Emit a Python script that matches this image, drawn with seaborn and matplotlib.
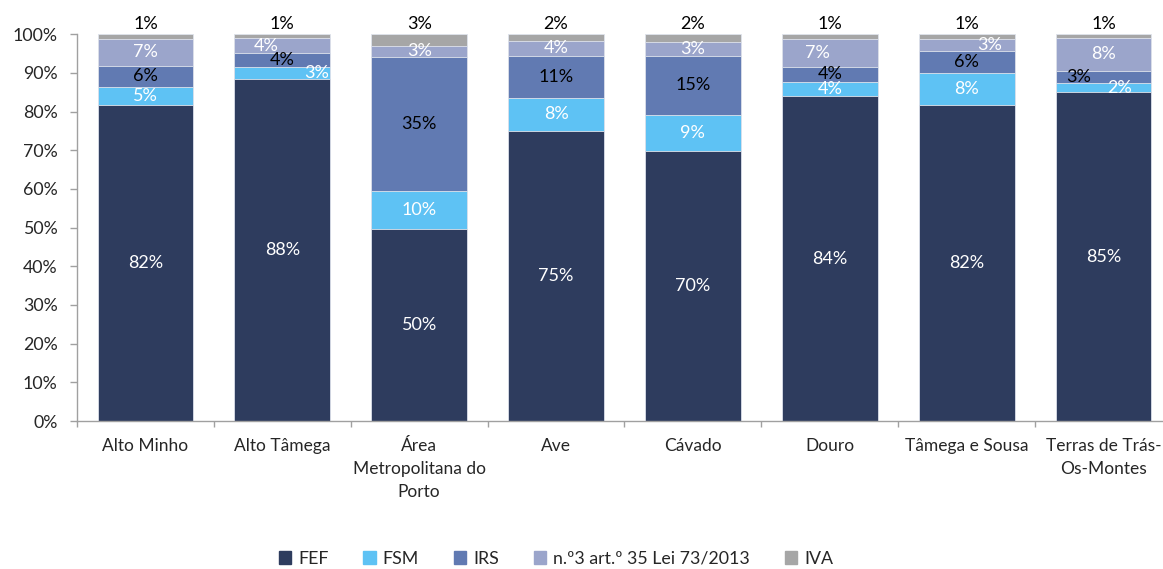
import matplotlib.pyplot as plt
import matplotlib.patches as mpatches
import pandas as pd
import seaborn as sns

# data (shares in %)
regions = ["Alto Minho", "Alto Tâmega", "Área\nMetropolitana do\nPorto", "Ave",
           "Cávado", "Douro", "Tâmega e Sousa", "Terras de Trás-\nOs-Montes"]
series = ["FEF", "FSM", "IRS", "n.º3 art.º 35 Lei 73/2013", "IVA"]
fef = [81.7, 88.4, 49.6, 75.1, 69.8, 84.0, 81.6, 85.0]
fsm = [4.6, 3.1, 9.9, 8.4, 9.3, 3.7, 8.4, 2.4]
irs = [5.6, 3.7, 34.6, 10.9, 15.4, 3.9, 5.6, 3.2]
art35 = [6.9, 3.8, 3.0, 3.9, 3.4, 7.1, 3.3, 8.4]
iva = [1.2, 1.0, 2.9, 1.7, 2.1, 1.3, 1.1, 1.0]

colors = ["#2E3C5E", "#5EC2F4", "#617AB2", "#9BA5CB", "#A6A6A6"]
label_colors = ["white", "white", "black", "white", "black"]

# manual nudges for a few crowded labels (x shift in category units)
nudges = {(1, 3): -0.12, (1, 1): 0.25, (5, 3): -0.09,
          (6, 3): 0.17, (7, 2): -0.18, (7, 1): 0.12}

df = pd.DataFrame({"region": regions, "FEF": fef, "FSM": fsm, "IRS": irs,
                   series[3]: art35, "IVA": iva})
cum = df[series].cumsum(axis=1)

sns.set_style("white")
plt.rcParams["font.family"] = ["Lato", "DejaVu Sans"]

fig = plt.figure(figsize=(11.63, 5.69), dpi=100)
ax = fig.add_axes([0.0662, 0.2601, 0.9415, 0.6796])

# stacked bars: draw cumulative totals from the top series down
for i in reversed(range(len(series))):
    sns.barplot(x=df["region"], y=cum[series[i]], color=colors[i], saturation=1,
                width=0.7, edgecolor="#dfe3ec", linewidth=0.6, ax=ax)

# value labels
for j in range(len(regions)):
    for i, s in enumerate(series):
        v = df.loc[j, s]
        txt = f"{v:.0f}%"
        if s == "IVA":
            ax.annotate(txt, (j, 100), xytext=(0, 2), textcoords="offset points",
                        ha="center", va="bottom", fontsize=13, color="black")
        else:
            ymid = cum.loc[j, s] - v / 2
            ax.text(j + nudges.get((j, i), 0), ymid, txt, ha="center", va="center",
                    fontsize=13, color=label_colors[i])

ax.set_xlim(-0.5, 7.5)
ax.set_ylim(0, 100)
ax.set_yticks(range(0, 101, 10))
ax.set_yticklabels([f"{t}%" for t in range(0, 101, 10)], fontsize=12.8)
ax.set_xticks(range(len(regions)))
ax.set_xticklabels(regions, fontsize=12.5, linespacing=1.55)
ax.set_xticks([k - 0.5 for k in range(len(regions) + 1)], minor=True)
ax.tick_params(axis="x", which="major", length=0, pad=12)
ax.tick_params(axis="x", which="minor", length=4, width=1, color="#A0A0A0",
               direction="out", bottom=True)
ax.tick_params(axis="y", length=5, width=1, color="#A0A0A0", direction="out",
               left=True, pad=9)
ax.set_xlabel("")
ax.set_ylabel("")
sns.despine(ax=ax, top=True, right=True)
for side in ["left", "bottom"]:
    ax.spines[side].set_color("#A0A0A0")
    ax.spines[side].set_linewidth(1.0)

handles = [mpatches.Patch(color=c, label=s) for c, s in zip(colors, series)]
fig.legend(handles=handles, loc="center", bbox_to_anchor=(0.478, 0.018),
           ncol=5, frameon=False, fontsize=12.8, handlelength=0.7,
           handleheight=0.7, handletextpad=0.4, columnspacing=1.95)

fig.savefig("out.png", dpi=100)
